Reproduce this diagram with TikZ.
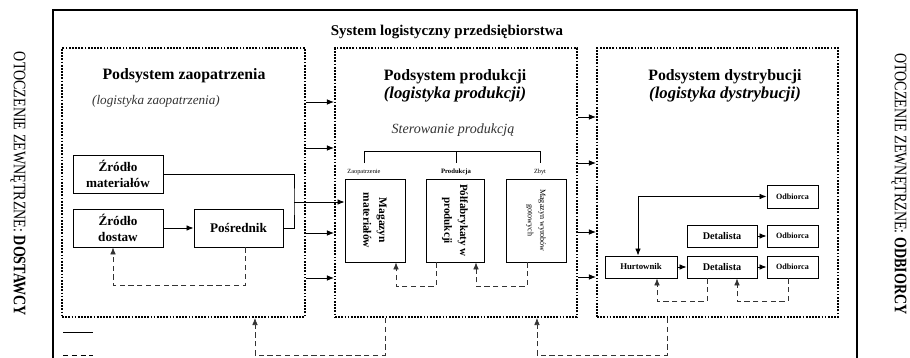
\documentclass[tikz,border=0pt]{standalone}
\usepackage{fontspec}
\setmainfont{Liberation Serif}
\usepackage{graphicx}
\usetikzlibrary{arrows.meta}

\begin{document}
\begin{tikzpicture}[x=0.02cm,y=-0.02cm,>={Latex[length=4pt,width=3.2pt]},
    fb/.style={->,dash pattern=on 3pt off 2pt,black!80}]

    \clip (0,0) rectangle (910,358);
    \draw[line width=1.5pt] (53,380) -- (53,10) -- (857,10) -- (857,380);
    \node[font=\bfseries\fontsize{8.5}{10}\selectfont] (tytul) at (447,32) {System logistyczny przedsiębiorstwa};

    % otoczenie
    \node[rotate=-90,font=\fontsize{10}{11}\selectfont] (dostawcy) at (18,184)
        {\scalebox{0.8}[1]{OTOCZENIE ZEWNĘTRZNE: \textbf{DOSTAWCY}}};
    \node[rotate=-90,font=\fontsize{10}{11}\selectfont] (odbiorcy) at (899,184)
        {\scalebox{0.8}[1]{OTOCZENIE ZEWNĘTRZNE: \textbf{ODBIORCY}}};

    % podsystemy
    \begin{scope}[every node/.style={draw,line width=1.2pt,dash pattern=on 1pt off 0.8pt,inner sep=0pt,minimum height=5.38cm}]
        \node[minimum width=4.86cm] (zaop) at (183.5,182.5) {};
        \node[minimum width=4.84cm] (prod) at (456,182.5) {};
        \node[minimum width=4.82cm] (dystr) at (717.5,182.5) {};
    \end{scope}

    \node[font=\bfseries\fontsize{9}{10}\selectfont] (tzaop) at (184,76) {Podsystem zaopatrzenia};
    \node[font=\itshape\fontsize{7.5}{9}\selectfont,black!80] (lzaop) at (156,101) {(logistyka zaopatrzenia)};
    \node[font=\bfseries\fontsize{9}{10}\selectfont] (tprod) at (455,77) {Podsystem produkcji};
    \node[font=\bfseries\itshape\fontsize{9.5}{10}\selectfont] (lprod) at (455,95) {(logistyka produkcji)};
    \node[font=\bfseries\fontsize{9}{10}\selectfont] (tdystr) at (725,77) {Podsystem dystrybucji};
    \node[font=\bfseries\itshape\fontsize{9.5}{10}\selectfont] (ldystr) at (725,95) {(logistyka dystrybucji)};
    \node[font=\itshape\fontsize{8}{9}\selectfont,black!80] (sterow) at (453,130) {Sterowanie produkcją};

    \node[font=\fontsize{3.6}{4}\selectfont] (pzaop) at (364,172) {Zaopatrzenie};
    \node[font=\bfseries\fontsize{3.8}{4}\selectfont] (pprod) at (456,172) {Produkcja};
    \node[font=\fontsize{3.6}{4}\selectfont] (pzbyt) at (540,172) {Zbyt};
    \draw (pzaop.north) -- ++(0,-12) -| (pzbyt.north);
    \draw (pprod.north) -- ++(0,-12);

    % skrzynki
    \begin{scope}[every node/.style={draw,line width=0.5pt,align=center,inner sep=1pt}]
        \node[minimum width=1.8cm,minimum height=0.76cm,font=\bfseries\fontsize{7.5}{9}\selectfont] (zrmat) at (118,174) {Źródło\\materiałów};
        \node[minimum width=1.8cm,minimum height=0.76cm,font=\bfseries\fontsize{7.5}{9}\selectfont] (zrdost) at (118,228) {Źródło\\dostaw};
        \node[minimum width=1.78cm,minimum height=0.76cm,font=\bfseries\fontsize{7.5}{9}\selectfont] (posr) at (238.5,228) {Pośrednik};

        \node[rotate=-90,minimum width=1.66cm,minimum height=1.2cm,font=\bfseries\fontsize{6.5}{9}\selectfont] (magmat) at (375,220.5) {Magazyn\\materiałów};
        \node[rotate=-90,minimum width=1.66cm,minimum height=1.16cm,font=\bfseries\fontsize{6.3}{9}\selectfont] (polf) at (455,220.5) {Półfabrykaty w\\produkcji};
        \node[rotate=-90,minimum width=1.66cm,minimum height=1.2cm,font=\fontsize{4.6}{7}\selectfont] (magwyr) at (536,220.5) {Magazyn wyrobów\\gotowych};

        \node[minimum width=1.44cm,minimum height=0.44cm,font=\bfseries\fontsize{5}{6}\selectfont] (hurt) at (641,267) {Hurtownik};
        \node[minimum width=1.4cm,minimum height=0.44cm,font=\bfseries\fontsize{5.8}{6}\selectfont] (det1) at (722,267) {Detalista};
        \node[minimum width=1.02cm,minimum height=0.44cm,font=\bfseries\fontsize{4.6}{6}\selectfont] (odb3) at (792.5,267) {Odbiorca};
        \node[minimum width=1.4cm,minimum height=0.44cm,font=\bfseries\fontsize{5.8}{6}\selectfont] (det2) at (722,236) {Detalista};
        \node[minimum width=1.02cm,minimum height=0.44cm,font=\bfseries\fontsize{4.6}{6}\selectfont] (odb2) at (792.5,236) {Odbiorca};
        \node[minimum width=1.02cm,minimum height=0.46cm,font=\bfseries\fontsize{4.6}{6}\selectfont] (odb1) at (792.5,196.5) {Odbiorca};
    \end{scope}

    \coordinate (jn) at (294,202);
    \coordinate (r1) at (0,102);
    \coordinate (r2) at (0,148);
    \coordinate (r3) at (0,233);
    \coordinate (r4) at (0,278);
    \coordinate (s1) at (0,117);
    \coordinate (s2) at (0,163);
    \coordinate (s3) at (0,232);
    \coordinate (s4) at (0,277);

    \draw[line width=0.5pt] (zrmat.east) -| (jn) |- (posr.east);

    \begin{scope}[every path/.style={->,line width=0.5pt}]
        \path (zrdost) edge (posr);
        \path (jn) edge (magmat.south |- jn);
        \path (zaop.east |- r1) edge (prod.west |- r1);
        \path (zaop.east |- r2) edge (prod.west |- r2);
        \path (zaop.east |- r3) edge (prod.west |- r3);
        \path (zaop.east |- r4) edge (prod.west |- r4);
        \path (prod.east |- s1) edge (dystr.west |- s1);
        \path (prod.east |- s2) edge (dystr.west |- s2);
        \path (prod.east |- s3) edge (dystr.west |- s3);
        \path (prod.east |- s4) edge (dystr.west |- s4);
        \path (hurt) edge (det1);
        \path (det1) edge (odb3);
        \path (det2) edge (odb2);
        \draw[<->] ([xshift=-0.06cm]hurt.north) |- (odb1.west);
    \end{scope}

    % sprzezenia zwrotne
    \draw[fb] ([xshift=0.13cm]posr.south) -- ++(0,38) -| ([xshift=-0.1cm]zrdost.south);
    \draw[fb] ([xshift=-0.38cm]polf.east) -- ++(0,24) -| ([xshift=0.42cm]magmat.east);
    \draw[fb] ([xshift=-0.18cm]magwyr.east) -- ++(0,24) -| ([xshift=0.42cm]polf.east);
    \draw[fb] ([xshift=-0.3cm]det1.south) -- ++(0,23) -| ([xshift=0.32cm]hurt.south);
    \draw[fb] ([xshift=-0.09cm]odb3.south) -- ++(0,23) -| ([xshift=0.3cm]det1.south);
    \draw[fb] ([xshift=-1.42cm]prod.south) -- ++(0,37) -| ([xshift=1.43cm]zaop.south);
    \draw[fb] ([xshift=-1.01cm]dystr.south) -- ++(0,37) -| ([xshift=1.62cm]prod.south);

    % legenda
    \draw (63,332) -- (93,332);
    \draw[dash pattern=on 3pt off 2pt] (63,355) -- (93,355);
\end{tikzpicture}
\end{document}
